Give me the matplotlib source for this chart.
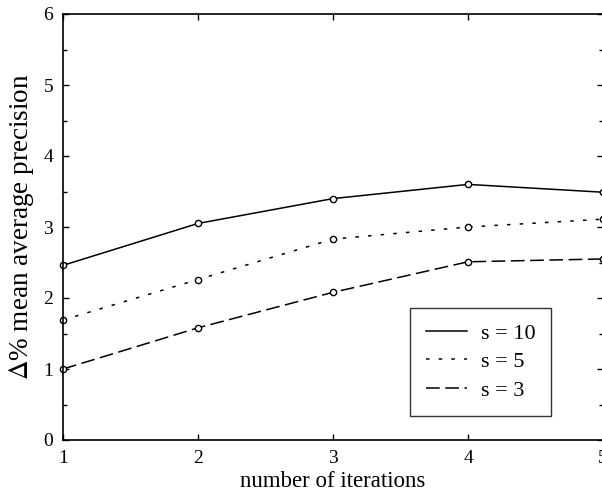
import matplotlib
matplotlib.use("Agg")
import matplotlib.pyplot as plt
from matplotlib.ticker import MultipleLocator

iterations = [1, 2, 3, 4, 5]
s10 = [2.46, 3.05, 3.40, 3.60, 3.49]
s5 = [1.69, 2.26, 2.83, 3.00, 3.11]
s3 = [1.00, 1.58, 2.08, 2.51, 2.55]
labels = ["s = 10", "s = 5", "s = 3"]

plt.rcParams['font.family'] = ['Liberation Serif', 'DejaVu Serif']
plt.rcParams['mathtext.fontset'] = 'stix'

fig = plt.figure(figsize=(6.02, 4.95), dpi=100)
ax = fig.add_axes([63/602, 55/495, 540/602, 426/495])

styles = [None, (0, (2.3, 6.0)), (0, (9, 3.6))]
for ys, lab, dash in zip([s10, s5, s3], labels, styles):
    ls = '-' if dash is None else dash
    ax.plot(iterations, ys, color='black', lw=1.1, linestyle=ls, label=lab)
    ax.plot(iterations, ys, linestyle='none', marker='o', ms=4.5, mfc='white',
            mec='black', mew=1.0, clip_on=False)

ax.set_xlim(1, 5)
ax.set_ylim(0, 6)
ax.set_xticks([1, 2, 3, 4, 5])
ax.set_yticks([0, 1, 2, 3, 4, 5, 6])
ax.yaxis.set_minor_locator(MultipleLocator(0.5))
ax.tick_params(direction='in', which='both', top=True, right=True,
               labelsize=14, length=4, width=1)
ax.tick_params(which='minor', length=3)
ax.tick_params(axis='x', pad=7)
ax.tick_params(axis='y', pad=7)
for sp in ax.spines.values():
    sp.set_linewidth(1.2)

ax.set_xlabel('number of iterations', fontsize=16.5, labelpad=3)
ax.set_ylabel(r'$\Delta$% mean average precision', fontsize=19.5, labelpad=5)

leg = ax.legend(loc='lower left', bbox_to_anchor=(0.643, 0.056), fontsize=16,
                frameon=True, fancybox=False, edgecolor='black',
                handlelength=1.85, borderpad=0.7, labelspacing=0.35,
                handletextpad=0.63, borderaxespad=0)
leg.get_frame().set_linewidth(1.0)

fig.savefig('out.png', dpi=100)
